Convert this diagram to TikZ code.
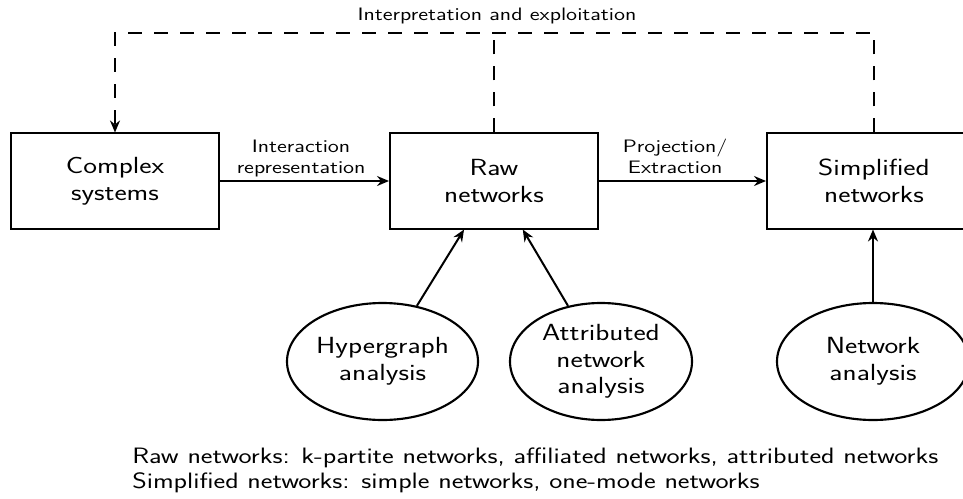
\documentclass[tikz,border=0pt]{standalone}
\usepackage{fontspec}
\renewcommand\familydefault{\sfdefault}
\usetikzlibrary{arrows.meta,shapes.geometric}
\newcommand\sx[1]{\scalebox{1.25}[1]{#1}}
\begin{document}
\begin{tikzpicture}[x=0.75pt,y=-0.75pt,
  box/.style={draw,line width=1.5pt,minimum width=156pt,minimum height=71.25pt,inner sep=0pt,align=center,font=\fontsize{17.5}{20}\selectfont},
  ell/.style={draw,ellipse,line width=1.6pt,minimum height=87.75pt,inner sep=0pt,align=center,font=\fontsize{17.5}{20}\selectfont},
  lab/.style={align=center,inner sep=0pt,font=\fontsize{13.5}{15.5}\selectfont},
  note/.style={inner sep=0pt,anchor=base west,font=\fontsize{16.7}{19.5}\selectfont},
  arr/.style={line width=1.5pt,-{Stealth[length=9pt,width=7.5pt,inset=3pt]}},
  dsh/.style={line width=1.5pt,dash pattern=on 10.5pt off 9pt}
]
\useasboundingbox (0,0) rectangle (963,499);
\node[box] (cs) at (115,181) {\sx{Complex}\\\sx{systems}};
\node[box] (raw) at (494,181) {\sx{Raw}\\\sx{networks}};
\node[box,minimum width=160.5pt] (simp) at (874,181) {\sx{Simplified}\\\sx{networks}};
\node[ell,minimum width=143.25pt] (hyp) at (382.5,361.5) {\sx{Hypergraph}\\\sx{analysis}};
\node[ell,minimum width=136.5pt] (att) at (601,361.5) {\sx{Attributed}\\\sx{network}\\\sx{analysis}};
\node[ell,minimum width=144pt] (net) at (873,361.5) {\sx{Network}\\\sx{analysis}};
\coordinate (top) at (494,33);
\node[lab,anchor=base] (interp) at (497,21) {\sx{Interpretation and exploitation}};
\draw[arr] (cs) -- node[lab,above=2.5pt,pos=0.48] (il) {\sx{Interaction}\\\sx{representation}} (raw);
\draw[arr] (raw) -- node[lab,above=5pt,pos=0.456] (pl) {\sx{Projection/}\\\sx{Extraction}} (simp);
\draw[arr] (hyp) -- (raw);
\draw[arr] (att) -- (raw);
\draw[arr] (net) -- (net |- simp.south);
\draw[dsh] (raw.north) -- (top);
\draw[dsh,arr] (simp.north) -- (simp.north |- top) -- (cs.north |- top) -- (cs.north);
\node[note] (n1) at (132,463) {\sx{Raw networks: k-partite networks, affiliated networks, attributed networks}};
\node[note] (n2) at (132,488) {\sx{Simplified networks: simple networks, one-mode networks}};
\end{tikzpicture}
\end{document}
